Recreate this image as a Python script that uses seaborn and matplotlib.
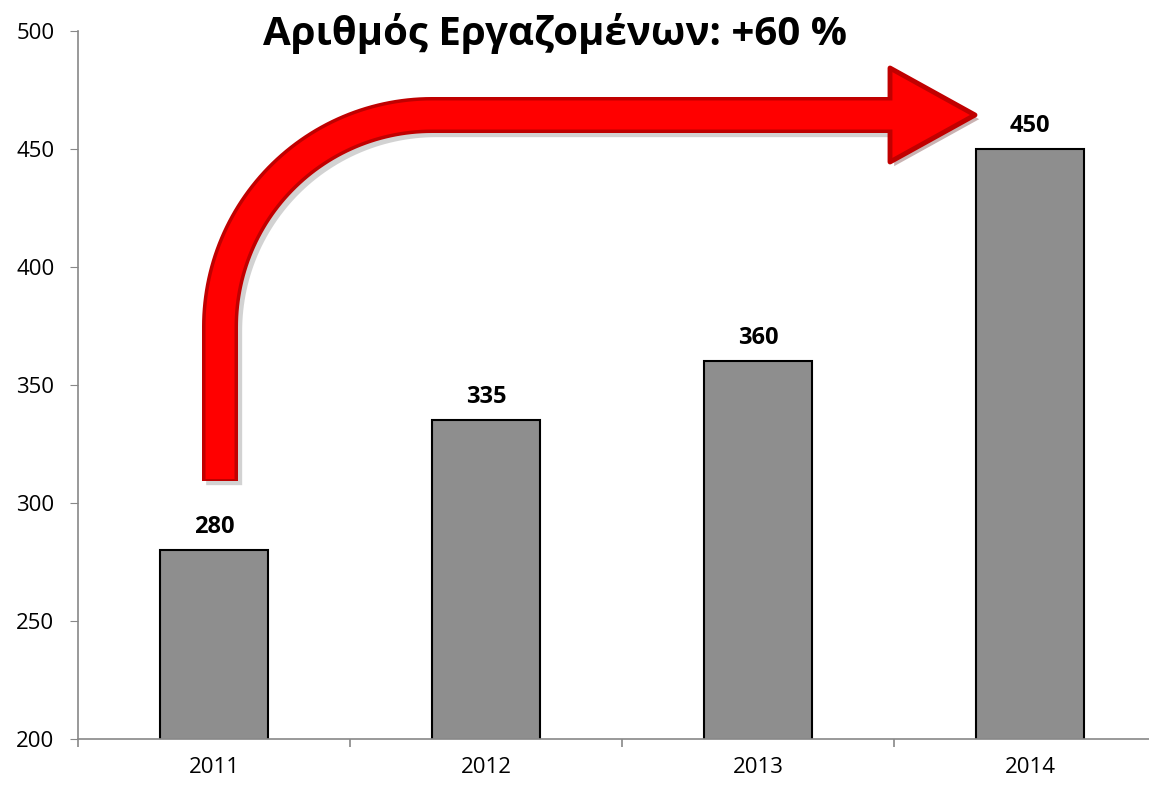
import numpy as np
import pandas as pd
import seaborn as sns
import matplotlib.pyplot as plt
from matplotlib.path import Path
from matplotlib.patches import PathPatch, Polygon
from matplotlib.transforms import Affine2D
import matplotlib.patheffects as pe

years = ["2011", "2012", "2013", "2014"]
employees = [280, 335, 360, 450]
title = "Αριθμός Εργαζομένων: +60 %"

sns.set_style("white")
plt.rcParams['font.family'] = ['Open Sans', 'DejaVu Sans']
plt.rcParams['text.color'] = 'black'
plt.rcParams['xtick.color'] = 'black'
plt.rcParams['ytick.color'] = 'black'

df = pd.DataFrame({"year": years, "employees": employees})

fig = plt.figure(figsize=(11.49, 7.85), dpi=100)
ax = fig.add_axes([78 / 1149, 1 - 739 / 785, 1088 / 1149, (739 - 31) / 785])

sns.barplot(data=df, x="year", y="employees", color="#8e8e8e",
            edgecolor="black", linewidth=1.5, width=0.4, saturation=1, ax=ax)

ax.set_ylim(200, 500)
ax.set_xlim(-0.5, 3.5)
ax.set_yticks(np.arange(200, 501, 50))
ax.set_xlabel("")
ax.set_ylabel("")

for c in ax.containers:
    ax.bar_label(c, padding=8, fontsize=17, fontweight="bold")

sns.despine(ax=ax)
for s in ["left", "bottom"]:
    ax.spines[s].set_color("#888888")
    ax.spines[s].set_linewidth(1.2)

ax.tick_params(axis="y", left=True, length=6, color="#888888", labelsize=16, pad=11)
ax.tick_params(axis="x", which="major", bottom=True, length=0, labelsize=16, pad=13)
ax.set_xticks([-0.5, 0.5, 1.5, 2.5, 3.5], minor=True)
ax.tick_params(axis="x", which="minor", bottom=True, length=6, width=1.2, color="#888888")

fig.text(555 / 1149, 1 - 33 / 785, title, ha="center", va="center",
         fontsize=29, fontweight="bold")

# curved arrow, drawn in pixel space (top-left origin)
px = Affine2D().scale(1, -1).translate(0, 785)
r = 212
yh = 115
cx, cy = 220 + r, yh + r
theta = np.linspace(np.pi, np.pi / 2, 60)
arc = np.column_stack([cx + r * np.cos(theta), cy - r * np.sin(theta)])


def shaft(y0, x1):
    return Path(np.vstack([[220, y0], arc, [x1, yh]]))


shadow = [pe.SimpleLineShadow(offset=(3, -3), shadow_color="gray", alpha=0.35), pe.Normal()]
fig.add_artist(PathPatch(shaft(481, 893), transform=px, fill=False, edgecolor="#c00000",
                         lw=36 * 0.72, capstyle="butt", joinstyle="round",
                         path_effects=shadow))
head = Polygon([[890, 68], [975, 115], [890, 162]], closed=True, transform=px,
               facecolor="#ff0000", edgecolor="#c00000", lw=3.5, joinstyle="round",
               path_effects=[pe.SimplePatchShadow(offset=(3, -3), alpha=0.3), pe.Normal()])
fig.add_artist(head)
fig.add_artist(PathPatch(shaft(479, 896), transform=px, fill=False, edgecolor="#ff0000",
                         lw=29 * 0.72, capstyle="butt", joinstyle="round"))

fig.savefig("out.png", dpi=100)
